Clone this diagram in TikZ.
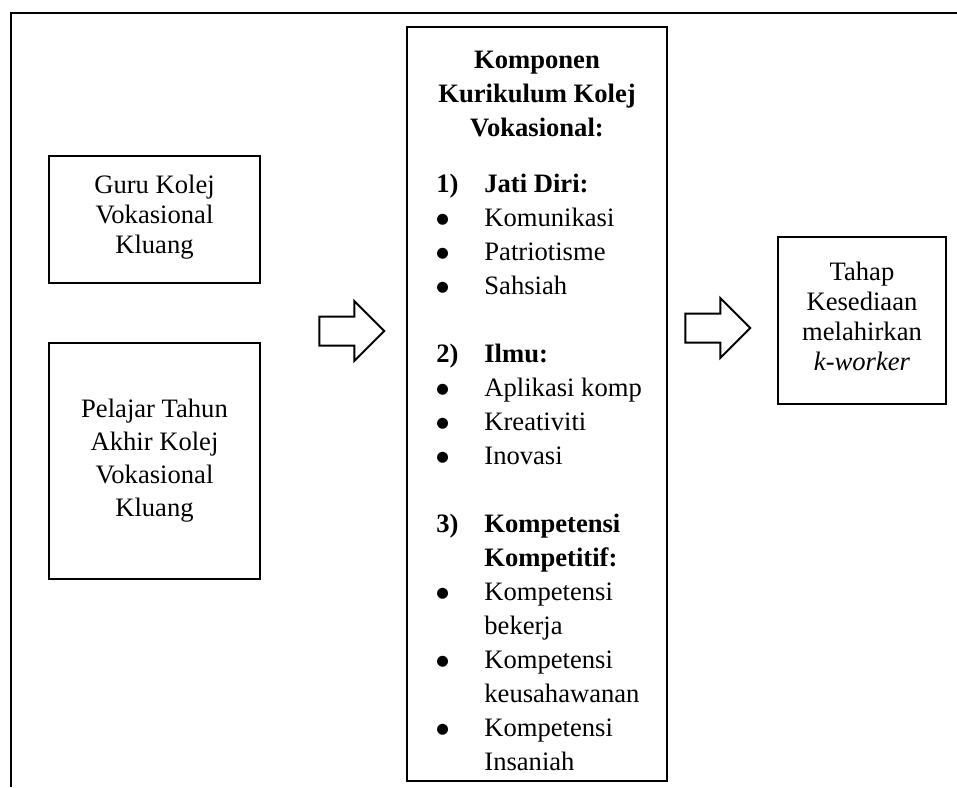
\documentclass[tikz,border=0pt]{standalone}
\usepackage{fontspec}
\setmainfont{Liberation Serif}
\newfontfamily\simbol{DejaVu Sans}
\usepackage{tikz}
\usetikzlibrary{positioning,shapes.arrows}

\newcommand{\titik}{\raisebox{1.3pt}{\simbol\fontsize{7.2}{7.2}\selectfont ●}}

\begin{document}
\begin{tikzpicture}[x=0.5pt,y=-0.5pt,
    huruf/.style={font=\fontsize{13.3}{#1}\selectfont},
    tebal/.style={font=\fontsize{13.3}{#1}\selectfont\bfseries},
    kotak/.style={draw, line width=1pt, align=center, inner sep=0pt},
    panah/.style={draw, line width=1pt, single arrow, single arrow head extend=7.75pt,
        single arrow head indent=0pt, minimum height=32.5pt, inner xsep=0pt, inner ysep=6.75pt}]
    \useasboundingbox (0,0) rectangle (957,787);
    \draw[line width=1.3pt] (957,13) -- (11,13) -- (11,787);

    % kiri
    \node[kotak, huruf=15, minimum width=105.5pt, minimum height=63.5pt, text depth=5.5pt] (guru) at (154.5,219.5) {Guru Kolej\\Vokasional\\Kluang};
    \node[kotak, huruf=16.5, minimum width=105.5pt, minimum height=118pt] (pelajar) at (154.5,461) {Pelajar Tahun\\Akhir Kolej\\Vokasional\\Kluang};

    \node[panah] (panahA) at (344.5,331) {};

    % tengah
    \node[kotak, minimum width=130pt, minimum height=377pt] (kurikulum) at (537,404) {};
    \node[anchor=north, align=center, inner sep=0pt, tebal=17] (judul) at ([yshift=-12.5pt]kurikulum.north) {Komponen\\Kurikulum Kolej\\Vokasional:};
    \node[anchor=north west, inner sep=0pt, huruf=17] (senarai) at ([xshift=15pt,yshift=-71pt]kurikulum.north west) {%
        \begin{tabular}{@{}p{24pt}@{}l@{}}
        \textbf{1)} & \textbf{Jati Diri:}\\
        \titik & Komunikasi\\
        \titik & Patriotisme\\
        \titik & Sahsiah\\
        & \\
        \textbf{2)} & \textbf{Ilmu:}\\
        \titik & Aplikasi komp\\
        \titik & Kreativiti\\
        \titik & Inovasi\\
        & \\
        \textbf{3)} & \textbf{Kompetensi}\\
        & \textbf{Kompetitif:}\\
        \titik & Kompetensi\\
        & bekerja\\
        \titik & Kompetensi\\
        & keusahawanan\\
        \titik & Kompetensi\\
        & Insaniah
        \end{tabular}};

    \node[panah] (panahB) at (710.5,328) {};

    % kanan
    \node[kotak, huruf=15, minimum width=84pt, minimum height=83.5pt, text depth=4.5pt] (tahap) at (862,320.5) {Tahap\\Kesediaan\\melahirkan\\\textit{k-worker}};
\end{tikzpicture}
\end{document}
